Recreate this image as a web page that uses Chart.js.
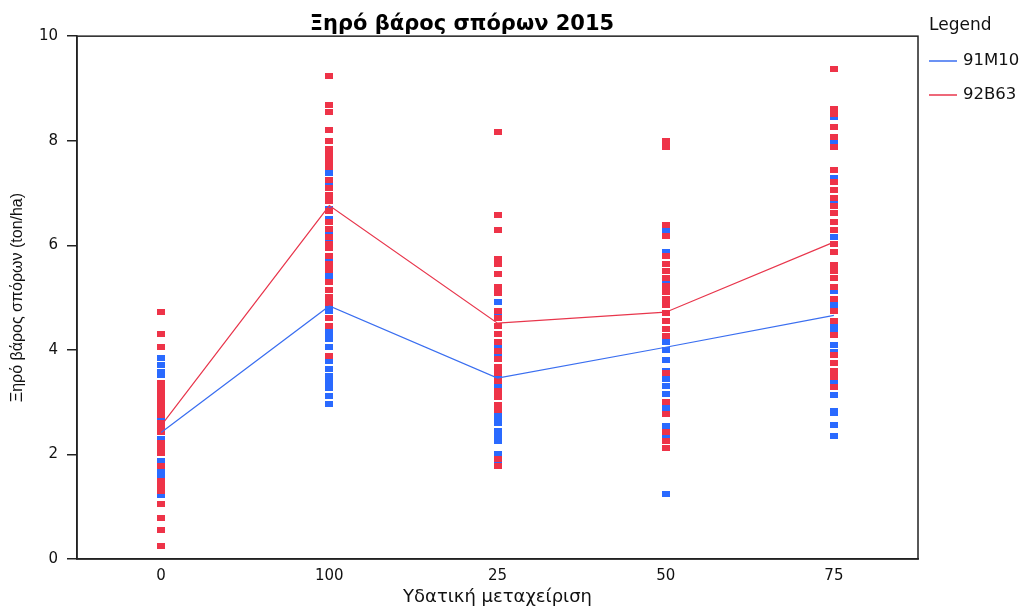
<!DOCTYPE html>
<html>
<head>
<meta charset="utf-8">
<script src="https://cdn.jsdelivr.net/npm/chart.js@4/dist/chart.umd.min.js"></script>
<style>
  html, body { margin: 0; padding: 0; background: #fff; }
  #wrap { width: 1028px; height: 606px; }
</style>
</head>
<body>
<div id="wrap"><canvas id="c" width="1028" height="606"></canvas></div>
<script>
// Water treatment categories (in the order they appear on the x axis)
const treatments = ['0', '100', '25', '50', '75'];
const hybrids = ['91M10', '92B63'];
const yTicks = [0, 2, 4, 6, 8, 10];

// Mean dry seed weight per treatment (ton/ha)
const mean91M10 = [2.42, 4.84, 3.46, 4.05, 4.66];
const mean92B63 = [2.55, 6.76, 4.51, 4.72, 6.06];

// Individual plot observations, hybrid 91M10
const obs91M10_t0   = [3.84, 3.71, 3.58, 3.52, 2.68, 2.30, 1.87, 1.70, 1.58, 1.23];
const obs91M10_t100 = [7.38, 7.15, 6.70, 6.50, 6.22, 6.05, 5.72, 5.45, 5.35, 4.85, 4.75, 4.60, 4.40, 4.30, 4.20, 4.05, 3.78, 3.63, 3.50, 3.38, 3.28, 3.12, 2.97];
const obs91M10_t25  = [4.92, 4.65, 4.08, 3.90, 3.48, 3.33, 3.12, 2.78, 2.72, 2.60, 2.45, 2.35, 2.25, 2.00, 1.85];
const obs91M10_t50  = [6.30, 5.88, 5.30, 4.88, 4.15, 4.00, 3.80, 3.60, 3.45, 3.30, 3.15, 2.88, 2.55, 2.35, 1.25];
const obs91M10_t75  = [8.45, 8.00, 7.28, 6.80, 6.15, 5.12, 4.86, 4.45, 4.38, 4.10, 3.95, 3.40, 3.13, 2.84, 2.80, 2.56, 2.35];

// Individual plot observations, hybrid 92B63
const obs92B63_t0   = [4.72, 4.30, 4.05, 3.36, 3.25, 3.15, 3.05, 2.95, 2.85, 2.76, 2.60, 2.50, 2.43, 2.22, 2.12, 2.03, 1.78, 1.50, 1.40, 1.30, 1.05, 0.78, 0.55, 0.25];
const obs92B63_t100 = [9.23, 8.68, 8.55, 8.20, 8.00, 7.85, 7.72, 7.62, 7.50, 7.25, 7.10, 6.97, 6.85, 6.65, 6.45, 6.32, 6.15, 6.02, 5.95, 5.80, 5.65, 5.52, 5.30, 5.15, 5.02, 4.90, 4.60, 4.45, 3.88];
const obs92B63_t25  = [8.17, 6.58, 6.29, 5.74, 5.65, 5.45, 5.20, 5.08, 4.74, 4.60, 4.45, 4.30, 4.15, 3.98, 3.82, 3.68, 3.55, 3.40, 3.22, 3.10, 2.95, 2.85, 1.92, 1.77];
const obs92B63_t50  = [8.00, 7.88, 6.38, 6.17, 5.80, 5.65, 5.50, 5.37, 5.22, 5.10, 4.97, 4.85, 4.70, 4.55, 4.40, 4.26, 3.55, 3.00, 2.78, 2.42, 2.25, 2.12];
const obs92B63_t75  = [9.38, 8.60, 8.52, 8.26, 8.08, 7.88, 7.44, 7.22, 7.05, 6.90, 6.75, 6.62, 6.45, 6.30, 6.02, 5.88, 5.63, 5.50, 5.37, 5.20, 4.98, 4.75, 4.55, 4.28, 3.90, 3.75, 3.60, 3.48, 3.29];

const BLUE = '#2a6aff';
const RED = '#ee3348';
const BLUE_LINE = '#3a6ef0';
const RED_LINE = '#e8364c';
const FONT = '"DejaVu Sans", "Liberation Sans", Arial, sans-serif';
const NARROW = '"Liberation Sans Narrow", "Liberation Sans", Arial, sans-serif';

// Build {x, y} points from per-treatment lists
function toPoints(lists) {
  return treatments.flatMap((t, i) => lists[i].map(v => ({ x: t, y: v })));
}

// Small filled rectangle used as the point marker
function marker(color) {
  const c = document.createElement('canvas');
  c.width = 8; c.height = 6;
  const g = c.getContext('2d');
  g.fillStyle = color;
  g.fillRect(0, 0, 8, 6);
  return c;
}

// Black frame around the plot area plus the legend on the right
const framePlugin = {
  id: 'frame',
  afterDraw(chart) {
    const { ctx, chartArea: a } = chart;
    ctx.save();
    ctx.strokeStyle = '#222';
    ctx.lineWidth = 1.5;
    ctx.strokeRect(a.left, a.top, a.right - a.left, a.bottom - a.top);

    ctx.fillStyle = '#111';
    ctx.textBaseline = 'middle';
    ctx.textAlign = 'left';
    ctx.font = '17px ' + FONT;
    ctx.fillText('Legend', 929, 26);
    const lineColors = [BLUE_LINE, RED_LINE];
    hybrids.forEach((h, i) => {
      const y = 61 + i * 34;
      ctx.strokeStyle = lineColors[i];
      ctx.lineWidth = 1.5;
      ctx.beginPath();
      ctx.moveTo(929, y);
      ctx.lineTo(957, y);
      ctx.stroke();
      ctx.font = '16.5px ' + FONT;
      ctx.fillText(h, 963, y);
    });
    ctx.restore();
  }
};

const datasets = [
  { label: hybrids[0], data: mean91M10, borderColor: BLUE_LINE, borderWidth: 1.2, pointRadius: 0, fill: false, tension: 0 },
  { label: hybrids[1], data: mean92B63, borderColor: RED_LINE, borderWidth: 1.2, pointRadius: 0, fill: false, tension: 0 },
  { label: hybrids[1] + ' obs', data: toPoints([obs92B63_t0, obs92B63_t100, obs92B63_t25, obs92B63_t50, obs92B63_t75]),
    showLine: false, pointStyle: marker(RED), pointRadius: 4, pointHoverRadius: 4, backgroundColor: RED, borderColor: RED },
  { label: hybrids[0] + ' obs', data: toPoints([obs91M10_t0, obs91M10_t100, obs91M10_t25, obs91M10_t50, obs91M10_t75]),
    showLine: false, pointStyle: marker(BLUE), pointRadius: 4, pointHoverRadius: 4, backgroundColor: BLUE, borderColor: BLUE }
];

new Chart(document.getElementById('c'), {
  type: 'line',
  data: { labels: treatments, datasets },
  options: {
    responsive: false,
    animation: false,
    events: [],
    layout: { padding: { left: 6, right: 110, top: 0, bottom: 0 } },
    plugins: {
      legend: { display: false },
      tooltip: { enabled: false },
      title: {
        display: true,
        text: 'Ξηρό βάρος σπόρων 2015',
        color: '#000',
        font: { family: FONT, size: 21, weight: 'bold', lineHeight: 1.15 },
        padding: { top: 12, bottom: 0 }
      }
    },
    scales: {
      x: {
        type: 'category',
        offset: true,
        grid: { display: false },
        border: { display: true, color: '#222', width: 1.5 },
        ticks: { color: '#111', font: { family: FONT, size: 15 }, padding: 0 },
        title: { display: true, text: 'Υδατική μεταχείριση', color: '#111',
                 font: { family: FONT, size: 18, lineHeight: 1.0 }, padding: { top: 0, bottom: 0 } },
        afterFit(s) { s.height = 47; }
      },
      y: {
        min: 0, max: 10,
        afterBuildTicks(s) { s.ticks = yTicks.map(v => ({ value: v })); },
        grid: { display: true, drawOnChartArea: false, drawTicks: true, tickLength: 10, color: '#222', lineWidth: 1.5 },
        border: { display: true, color: '#222', width: 1.5 },
        ticks: { color: '#111', font: { family: FONT, size: 15 }, padding: 9 },
        title: { display: true, text: 'Ξηρό βάρος σπόρων (ton/ha)', color: '#111',
                 font: { family: NARROW, size: 16 }, padding: { top: 2, bottom: 0 } },
        afterFit(s) { s.width = 71; }
      }
    }
  },
  plugins: [framePlugin]
});
</script>
</body>
</html>
